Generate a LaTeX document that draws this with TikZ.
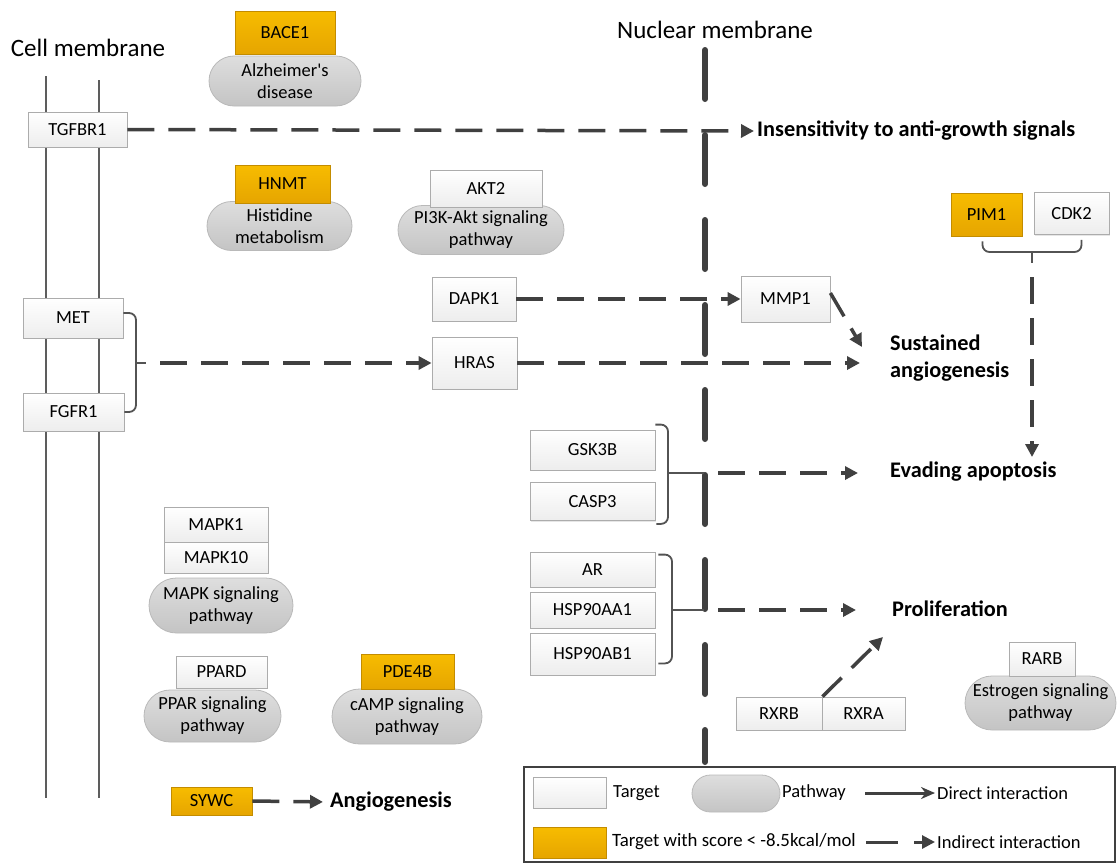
\documentclass[tikz,border=0pt]{standalone}
\usepackage{fontspec}
\setmainfont{Carlito}[Ligatures=TeXOff]
\usetikzlibrary{arrows.meta,shapes.misc,shadows,calc}
\definecolor{ln}{HTML}{404040}
\definecolor{or1}{HTML}{F7BC00}
\definecolor{or2}{HTML}{E6A500}
\definecolor{bx}{HTML}{ACACAC}
\definecolor{pl1}{HTML}{DEDEDE}
\definecolor{pl2}{HTML}{C4C4C4}
\tikzset{
 base/.style={font=\fontsize{18.5}{22}\selectfont, inner sep=0pt, align=center, text=black},
 tbox/.style={base, rectangle, draw=bx, line width=0.8pt, top color=white, bottom color=gray!14,
   drop shadow={shadow xshift=1.2pt,shadow yshift=-1.2pt,opacity=0.2}},
 obox/.style={tbox, top color=or1, bottom color=or2, draw=or2!85!black},
 pill/.style={base, rounded rectangle, draw=gray!55, line width=0.8pt, top color=pl1, bottom color=pl2},
 lbl/.style={font=\fontsize{22.3}{27}\selectfont\bfseries, anchor=west, align=left, inner sep=0pt},
 ind/.style={draw=ln, line width=3.5pt, dash pattern=on 27pt off 14pt, -{Triangle[length=13pt,width=13pt]}},
 direct/.style={draw=ln, line width=3pt, -{Stealth[length=14pt,width=12pt]}},
 brk/.style={draw=ln!90, line width=1.8pt, rounded corners=7pt},
 memb/.style={draw=ln!85, line width=2.2pt},
 nucm/.style={draw=ln, line width=6pt, line cap=round, dash pattern=on 49pt off 36pt},
}
\begin{document}
\begin{tikzpicture}[x=1pt,y=-1pt]
\useasboundingbox (0,0) rectangle (1118,865);
% membranes
\coordinate (m1a) at (46,76); \coordinate (m1b) at (46,798);
\coordinate (m2a) at (99,80); \coordinate (m2b) at (99,798);
\draw[memb] (m1a) -- (m1b);
\draw[memb] (m2a) -- (m2b);
\coordinate (nma) at (705,50); \coordinate (nmb) at (705,762);
\draw[nucm] (nma) -- (nmb);
\node[font=\fontsize{25}{30}\selectfont, inner sep=0pt] (cmt) at (88,48) {Cell membrane};
\node[font=\fontsize{25}{30}\selectfont, inner sep=0pt] (nmt) at (715,30) {Nuclear membrane};

% pathway groups
\node[pill, minimum width=152pt, minimum height=50pt] (alz) at (285,81) {Alzheimer's\\disease};
\node[obox, minimum width=100pt, minimum height=43pt] (bace1) at (285,32.5) {BACE1};
\node[pill, minimum width=145pt, minimum height=49pt] (his) at (279.5,226) {Histidine\\metabolism};
\node[obox, minimum width=95pt, minimum height=38pt] (hnmt) at (282.5,184) {HNMT};
\node[pill, minimum width=166pt, minimum height=49pt] (pi3k) at (481,230) {PI3K-Akt signaling\\pathway};
\node[tbox, minimum width=112pt, minimum height=37pt] (akt2) at (486,188.5) {AKT2};
\node[pill, minimum width=144pt, minimum height=55pt] (mapk) at (221,605.5) {MAPK signaling\\pathway};
\node[tbox, minimum width=104pt, minimum height=35pt] (mapk1) at (216,524.5) {MAPK1};
\node[tbox, minimum width=104pt, minimum height=31pt] (mapk10) at (216,557.5) {MAPK10};
\node[pill, minimum width=137pt, minimum height=52pt] (ppar) at (212.5,716) {PPAR signaling\\pathway};
\node[tbox, minimum width=91pt, minimum height=32pt] (ppard) at (221.5,672) {PPARD};
\node[pill, minimum width=150pt, minimum height=55pt] (camp) at (407,716.5) {cAMP signaling\\pathway};
\node[obox, minimum width=93pt, minimum height=35pt] (pde4b) at (407.5,671.5) {PDE4B};
\node[pill, minimum width=145pt, minimum height=54pt] (estr) at (1040.5,703) {Estrogen signaling\\pathway};
\node[tbox, minimum width=66pt, minimum height=34pt] (rarb) at (1042,659) {RARB};

% targets
\node[tbox, minimum width=99pt, minimum height=35pt] (tgfbr1) at (77.5,129.5) {TGFBR1};
\node[tbox, minimum width=100pt, minimum height=40pt] (met) at (73,318) {MET};
\node[tbox, minimum width=101pt, minimum height=38pt] (fgfr1) at (73.5,412) {FGFR1};
\node[tbox, minimum width=84pt, minimum height=44pt] (dapk1) at (474,299) {DAPK1};
\node[tbox, minimum width=85pt, minimum height=52pt] (hras) at (474.5,363) {HRAS};
\node[tbox, minimum width=89pt, minimum height=46pt] (mmp1) at (785.5,299) {MMP1};
\node[obox, minimum width=71pt, minimum height=43pt] (pim1) at (986.5,214.5) {PIM1};
\node[tbox, minimum width=75pt, minimum height=42pt] (cdk2) at (1071.5,213.5) {CDK2};
\node[tbox, minimum width=125pt, minimum height=40pt] (gsk3b) at (592.5,450) {GSK3B};
\node[tbox, minimum width=125pt, minimum height=38pt] (casp3) at (592.5,501.5) {CASP3};
\node[tbox, minimum width=125pt, minimum height=35pt] (ar) at (592.5,569.5) {AR};
\node[tbox, minimum width=125pt, minimum height=36pt] (hsp1) at (592.5,610) {HSP90AA1};
\node[tbox, minimum width=125pt, minimum height=42pt] (hsp2) at (592.5,654) {HSP90AB1};
\node[tbox, minimum width=86pt, minimum height=33pt] (rxrb) at (779,713.5) {RXRB};
\node[tbox, minimum width=83pt, minimum height=33pt] (rxra) at (863.5,713.5) {RXRA};
\node[obox, minimum width=81pt, minimum height=28pt] (sywc) at (211.5,801) {SYWC};

% outcome labels
\node[lbl] (ins) at (757,131) {Insensitivity to anti-growth signals};
\node[lbl] (sus) at (890,358) {Sustained\\angiogenesis};
\node[lbl] (eva) at (890,472) {Evading apoptosis};
\node[lbl] (pro) at (892,609) {Proliferation};
\node[lbl] (ang) at (330,802) {Angiogenesis};

% connectors
\draw[ind, shorten >=3pt] (tgfbr1.east) -- (ins.west);

\draw[brk] ([yshift=5pt]met.east) -| (136,363) |- (fgfr1.east);
\coordinate (mj) at (136,363); \coordinate (mt) at (146,363);
\draw[brk] (mj) -- (mt);
\draw[ind, dash phase=27pt] (mt) -- (hras.west);

\coordinate (susin) at (860,363);
\draw[ind] (hras.east) -- (susin);
\draw[ind] (dapk1.east) -- (mmp1.west);
\coordinate (sustop) at (862,347);
\draw[ind] ([yshift=6pt]mmp1.east) -- (sustop);

\draw[brk] ($(pim1.south)+(-4,5)$) |- (1032,252) -| ($(cdk2.south)+(10,5)$);
\coordinate (pc) at (1032,252); \coordinate (pct) at (1032,263);
\draw[brk] (pc) -- (pct);
\coordinate (evatop) at (1032,457);
\draw[ind, dash phase=27pt] (pct) -- (evatop);

\draw[brk] ($(gsk3b.north east)+(0,-5)$) -| (668,473) |- ($(casp3.south east)+(1,3)$);
\coordinate (gj) at (668,473); \coordinate (gm) at (704,473);
\draw[brk, line width=2.4pt] (gj) -- (gm);
\coordinate (evain) at (858,473);
\draw[ind, dash phase=27pt] (gm) -- (evain);

\draw[brk] ($(ar.north east)+(3,3)$) -| (672,610) |- ($(hsp2.south east)+(3,-12)$);
\coordinate (aj) at (672,610); \coordinate (am) at (704,610);
\draw[brk, line width=2.4pt] (aj) -- (am);
\coordinate (proin) at (856,610);
\draw[ind, dash phase=27pt] (am) -- (proin);

\coordinate (prolow) at (883,637);
\draw[ind] (rxrb.north east) -- (prolow);

\draw[ind, shorten >=7pt] (sywc.east) -- (ang.west);

% legend
\coordinate (lga) at (524,767); \coordinate (lgb) at (1115,862);
\draw[draw=ln, line width=2.5pt] (lga) rectangle (lgb);
\node[tbox, minimum width=73pt, minimum height=31pt] (lt) at (569.5,792.5) {};
\node[base, anchor=west] (ltt) at (613,793) {Target};
\node[pill, minimum width=88pt, minimum height=37pt] (lp) at (736,793.5) {};
\node[base, anchor=west] (lpt) at (782,793) {Pathway};
\coordinate (ld) at (865,793);
\node[base, anchor=west] (ldt) at (937,793) {Direct interaction};
\draw[direct, shorten >=2pt] (ld) -- (ldt.west);
\node[obox, minimum width=73pt, minimum height=31pt] (lo) at (569.5,842.5) {};
\node[base, anchor=west, font=\fontsize{18.8}{22}\selectfont] (lot) at (612,842) {Target with score < -8.5kcal/mol};
\coordinate (li) at (866,842);
\node[base, anchor=west] (lit) at (937,842) {Indirect interaction};
\draw[ind, line width=3pt, dash pattern=on 32pt off 16pt, shorten >=2pt] (li) -- (lit.west);
\end{tikzpicture}
\end{document}
